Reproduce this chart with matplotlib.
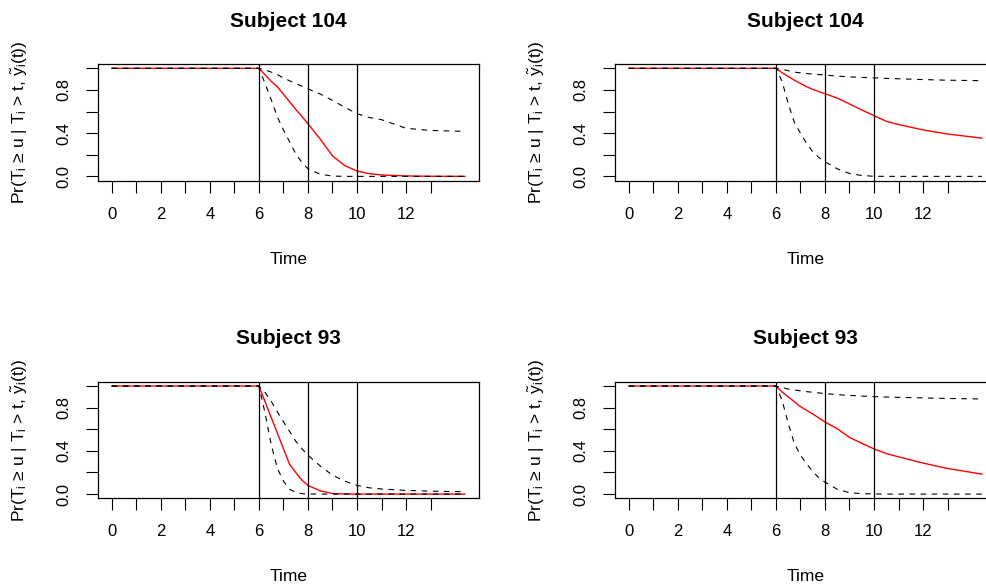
"""
Conditional survival curves for subjects 104 and 93 at landmarks 6, 8, 10.
"""
import matplotlib
matplotlib.use("Agg")
import matplotlib.pyplot as plt

plt.rcParams['font.family'] = ['Liberation Sans', 'DejaVu Sans']
plt.rcParams['mathtext.fontset'] = 'custom'
plt.rcParams['mathtext.rm'] = 'Liberation Sans'
plt.rcParams['mathtext.it'] = 'Liberation Sans'
plt.rcParams['mathtext.bf'] = 'Liberation Sans:bold'

TIMES = [0, 6, 6.25, 6.5, 6.75, 7, 7.25, 7.5, 7.75, 8, 8.5, 9, 9.5,
         10, 10.5, 11, 12, 13, 14.4]
LANDMARKS = [6, 8, 10]
TITLES = ["Subject 104", "Subject 104", "Subject 93", "Subject 93"]

# subject 104, first model
s104a_est = [1, 1, 0.94, 0.88, 0.83, 0.76, 0.69, 0.62, 0.555, 0.487, 0.345,
             0.19, 0.10, 0.05, 0.025, 0.013, 0.004, 0.001, 0.0]
s104a_low = [1, 1, 0.86, 0.71, 0.55, 0.43, 0.32, 0.21, 0.13, 0.07, 0.02,
             0.003, 0, 0, 0, 0, 0, 0, 0]
s104a_upp = [1, 1, 0.985, 0.965, 0.942, 0.91, 0.885, 0.86, 0.835, 0.81, 0.762,
             0.703, 0.64, 0.58, 0.545, 0.525, 0.445, 0.425, 0.416]

# subject 104, second model
s104b_est = [1, 1, 0.96, 0.925, 0.89, 0.86, 0.83, 0.805, 0.785, 0.765, 0.725,
             0.67, 0.615, 0.562, 0.51, 0.48, 0.43, 0.392, 0.354]
s104b_low = [1, 1, 0.88, 0.675, 0.5, 0.4, 0.306, 0.229, 0.175, 0.135, 0.07,
             0.027, 0.008, 0.001, 0, 0, 0, 0, 0]
s104b_upp = [1, 1, 0.99, 0.978, 0.965, 0.958, 0.952, 0.947, 0.942, 0.938, 0.928,
             0.921, 0.916, 0.912, 0.907, 0.903, 0.896, 0.89, 0.886]

# subject 93, first model
s93a_est = [1, 1, 0.855, 0.71, 0.565, 0.42, 0.275, 0.2, 0.13, 0.08, 0.03,
            0.005, 0.001, 0, 0, 0, 0, 0, 0]
s93a_low = [1, 1, 0.75, 0.46, 0.24, 0.12, 0.045, 0.015, 0.004, 0.001, 0,
            0, 0, 0, 0, 0, 0, 0, 0]
s93a_upp = [1, 1, 0.94, 0.86, 0.76, 0.67, 0.58, 0.49, 0.42, 0.36, 0.26,
            0.175, 0.12, 0.08, 0.058, 0.047, 0.034, 0.027, 0.022]

# subject 93, second model
s93b_est = [1, 1, 0.945, 0.9, 0.855, 0.81, 0.775, 0.742, 0.705, 0.667, 0.605,
            0.525, 0.47, 0.418, 0.375, 0.345, 0.287, 0.237, 0.185]
s93b_low = [1, 1, 0.87, 0.655, 0.47, 0.36, 0.28, 0.21, 0.15, 0.11, 0.045,
            0.013, 0.004, 0.001, 0, 0, 0, 0, 0]
s93b_upp = [1, 1, 0.985, 0.972, 0.963, 0.955, 0.948, 0.942, 0.936, 0.93, 0.92,
            0.913, 0.907, 0.902, 0.898, 0.895, 0.89, 0.885, 0.88]

W, H = 987, 588
# panel boxes in pixels: left, top, width, height
BOXES = [(97.7, 64, 381.3, 116.7), (614.7, 64, 381.3, 116.7),
         (97.7, 381.7, 381.3, 116.7), (614.7, 381.7, 381.3, 116.7)]

YLABEL = r'Pr(T$_i$ ≥ u | T$_i$ > t, $\tilde{y}_i$(t))'


def draw_panel(fig, box, title, est, low, upp):
    left, top, width, height = box
    ax = fig.add_axes([left / W, (H - top - height) / H, width / W, height / H])
    ax.plot(TIMES, est, color='red', lw=1.0)
    ax.plot(TIMES, low, color='black', lw=0.8, linestyle=(0, (5, 5)))
    ax.plot(TIMES, upp, color='black', lw=0.8, linestyle=(0, (5, 5)))
    for t in LANDMARKS:
        ax.axvline(t, color='black', lw=0.9)

    ax.set_xlim(-0.576, 14.976)
    ax.set_ylim(-0.04, 1.04)
    ax.set_xticks(range(14))
    ax.set_xticklabels([str(i) if i % 2 == 0 else '' for i in range(14)])
    ax.set_yticks([0, 0.2, 0.4, 0.6, 0.8, 1.0])
    ax.set_yticklabels(['0.0', '', '0.4', '', '0.8', ''],
                       rotation=90, va='center')
    ax.tick_params(direction='out', length=8.6, width=0.8, pad=10,
                   labelsize=12, color='black')
    for sp in ax.spines.values():
        sp.set_linewidth(0.9)
        sp.set_color('black')

    ax.set_title(title, fontsize=15, fontweight='bold', pad=26.8)
    ax.set_xlabel("Time", fontsize=12.5)
    ax.xaxis.set_label_coords(0.5, -0.607)
    ax.set_ylabel(YLABEL, fontsize=12.5)
    ax.yaxis.set_label_coords(-0.178, 0.5)
    return ax


def main():
    fig = plt.figure(figsize=(W / 100, H / 100), dpi=100)
    panels = [(s104a_est, s104a_low, s104a_upp),
              (s104b_est, s104b_low, s104b_upp),
              (s93a_est, s93a_low, s93a_upp),
              (s93b_est, s93b_low, s93b_upp)]
    for box, title, (est, low, upp) in zip(BOXES, TITLES, panels):
        draw_panel(fig, box, title, est, low, upp)
    fig.savefig("out.png", dpi=100)


if __name__ == '__main__':
    main()
